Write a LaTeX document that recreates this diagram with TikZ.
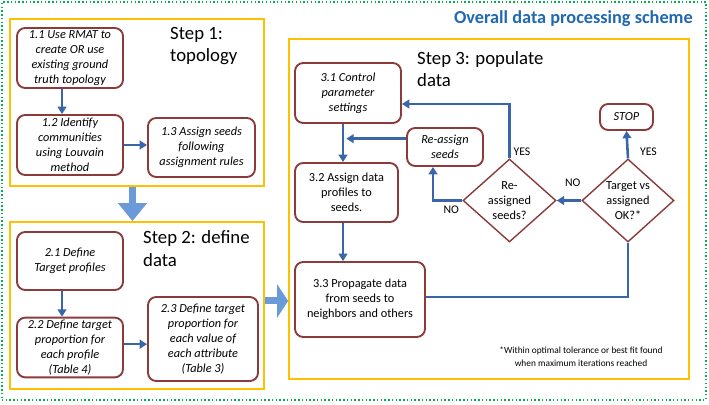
\documentclass[tikz,border=0pt]{standalone}
\usepackage{fontspec}
\setmainfont{Carlito}
\usetikzlibrary{arrows.meta,positioning,shapes.geometric,calc}
\definecolor{cborde}{HTML}{8C3B3B}
\definecolor{cpaso}{HTML}{FFC000}
\definecolor{cmarco}{HTML}{00B050}
\definecolor{cflecha}{HTML}{3866A8}
\definecolor{cgrande}{HTML}{6A9BD8}
\definecolor{ctitulo}{HTML}{2068B0}
\tikzset{
  caja/.style={draw=cborde,line width=1.6pt,fill=white,rounded corners=7pt,align=center,
               inner sep=2pt,font=\fontsize{10.5}{12.75}\selectfont},
  cajai/.style={caja,font=\fontsize{10.5}{12.75}\selectfont\itshape},
  decision/.style={draw=cborde,line width=1.2pt,fill=white,diamond,aspect=1.12,
                   inner sep=0pt,align=center,font=\fontsize{10.5}{12.75}\selectfont},
  paso/.style={draw=cpaso,line width=1.5pt},
  tpaso/.style={font=\fontsize{16}{19.5}\selectfont,align=left,anchor=west,inner sep=0pt},
  flecha/.style={-{Triangle[length=2.2mm,width=2.6mm]},draw=cflecha,line width=2.2pt},
  linea/.style={draw=cflecha,line width=2.2pt},
  grande/.style 2 args={-{Triangle[length=#1,width=#2]},draw=cgrande,line width=2.1mm},
  et/.style={font=\fontsize{10}{12}\selectfont,inner sep=1pt},
}

\begin{document}
\begin{tikzpicture}[x=1cm,y=1cm]
\useasboundingbox (0,0) rectangle (21.27,12.12);

\node[draw=cmarco,line width=1.2pt,dotted,minimum width=21.12cm,minimum height=11.94cm] (marco) at (10.62,6.09) {};
\node[font=\fontsize{15.6}{18}\selectfont\bfseries,text=ctitulo,anchor=east,inner sep=0pt] (titulo) at (20.79,11.55)
  {Overall data processing scheme};

% pasos
\node[paso,minimum width=7.62cm,minimum height=5.01cm] (paso1) at (4.11,9.045) {};
\node[paso,minimum width=7.62cm,minimum height=5.01cm] (paso2) at (4.11,2.955) {};
\node[paso,minimum width=12.0cm,minimum height=10.2cm] (paso3) at (14.67,5.85) {};

\node[tpaso] (tit1) at (5.10,10.74) {Step 1:\\topology};
\node[tpaso] (tit2) at (4.29,4.665) {Step 2: define\\data};
\node[tpaso] (tit3) at (12.51,10.05) {Step 3: populate\\data};

\node[cajai,minimum width=3.18cm,minimum height=1.80cm] (n11) at (2.10,10.38)
  {1.1 Use RMAT to\\create OR use\\existing ground\\truth topology};
\node[cajai,minimum width=3.18cm,minimum height=1.80cm] (n12) at (2.10,7.77)
  {1.2 Identify\\communities\\using Louvain\\method};
\node[cajai,minimum width=3.21cm,minimum height=1.77cm] (n13) at (6.045,7.695)
  {1.3 Assign seeds\\following\\assignment rules};

\node[cajai,minimum width=3.18cm,minimum height=1.74cm] (n21) at (2.10,4.29)
  {2.1 Define\\Target profiles};
\node[cajai,minimum width=3.18cm,minimum height=1.77cm] (n22) at (2.10,1.695)
  {2.2 Define target\\proportion for\\each profile\\(Table 4)};
\node[cajai,minimum width=3.30cm,minimum height=2.52cm] (n23) at (6.09,1.95)
  {2.3 Define target\\proportion for\\each value of\\each attribute\\(Table 3)};

\node[cajai,minimum width=3.18cm,minimum height=1.80cm] (n31) at (10.44,9.33)
  {3.1 Control\\parameter\\settings};
\node[caja,minimum width=3.09cm,minimum height=1.77cm] (n32) at (10.395,6.345)
  {3.2 Assign data\\profiles to\\seeds.};
\node[caja,minimum width=3.90cm,minimum height=2.25cm] (n33) at (10.80,3.135)
  {3.3 Propagate data\\from seeds to\\neighbors and others};
\node[cajai,minimum width=2.28cm,minimum height=1.14cm] (reasig) at (13.35,7.71)
  {Re-assign\\seeds};
\node[cajai,minimum width=1.59cm,minimum height=0.78cm] (stop) at (18.795,8.61) {STOP};

\node[decision,minimum width=2.79cm,minimum height=2.49cm] (d1) at (15.285,6.105)
  {Re-\\assigned\\seeds?};
\node[decision,minimum width=2.76cm,minimum height=2.49cm] (d2) at (18.84,6.105)
  {Target vs\\assigned\\OK?*};

\node[font=\fontsize{8}{11}\selectfont,align=center,inner sep=0pt] (nota) at (17.43,1.425)
  {*Within optimal tolerance or best fit found\\when maximum iterations reached};

\draw[grande={5.4mm}{8.4mm}] ([xshift=-1.35mm]paso1.south) -- ([xshift=-1.35mm]paso2.north);
\draw[grande={3.3mm}{9.9mm}] ([yshift=1.35mm]paso2.east) -- ([yshift=1.35mm]paso2.east -| paso3.west);

\draw[flecha] ([xshift=-2.4mm]n11.south) -- ([xshift=-2.4mm]n12.north);
\draw[flecha] (n12.east) -- (n12.east -| n13.west);
\draw[flecha] ([xshift=-2.4mm]n21.south) -- ([xshift=-2.4mm]n22.north);
\draw[flecha] ([yshift=1mm]n22.east) -- ([yshift=1mm]n22.east -| n23.west);

\coordinate (eje) at ([xshift=-1.5mm]n31.south);
\draw[flecha] (eje) -- (eje |- n32.north);
\draw[flecha] (eje |- n32.south) -- (eje |- n33.north);
\draw[flecha] ([yshift=2.5mm]reasig.west) -- ([yshift=2.5mm,xshift=1mm]reasig.west -| eje);
\draw[flecha] (d1.north) node[et,anchor=south west,xshift=0.5mm]{YES} |- ([yshift=-3.3mm]n31.east);
\draw[flecha] (d1.west) node[et,anchor=north east,xshift=-0.3mm,yshift=-1mm]{NO} -| ([xshift=-3.6mm]reasig.south);
\draw[flecha] (d2.west) -- (d1.east) node[et,pos=0.35,above=3.5mm]{NO};
\draw[flecha] (d2.north) -- (stop.south) node[et,pos=0.25,right=3mm]{YES};
\draw[linea] ([yshift=0.8mm]n33.east) -| (d2.south);

\end{tikzpicture}
\end{document}
